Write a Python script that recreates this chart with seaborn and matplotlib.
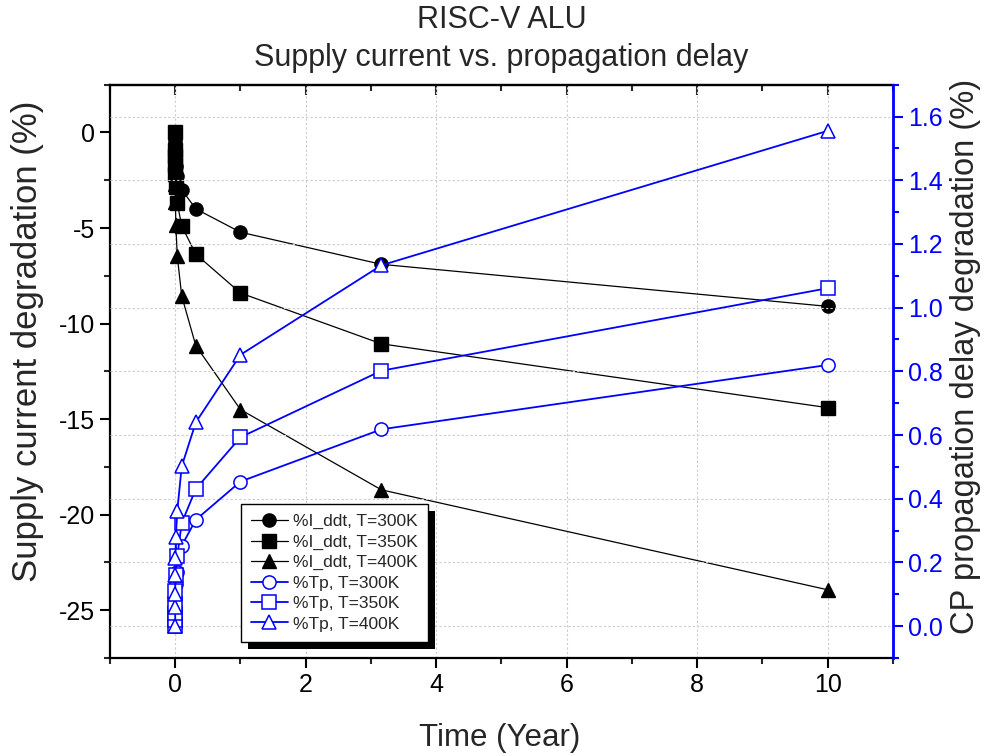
import matplotlib
matplotlib.use("Agg")
import matplotlib.pyplot as plt
import matplotlib.transforms as mtransforms
from matplotlib.patches import Rectangle
from matplotlib.ticker import MultipleLocator, FormatStrFormatter
import seaborn as sns

# Aging time points (years)
time_years = [0, 1e-4, 3.16e-4, 1e-3, 3.16e-3, 0.01, 0.0316, 0.1, 0.316, 1, 3.16, 10]

# Supply current degradation (%)
iddt_300 = [0.0, -0.45, -0.65, -0.95, -1.3, -1.75, -2.3, -3.0, -4.0, -5.22, -6.9, -9.1]
iddt_350 = [0.0, -0.9, -1.25, -1.7, -2.2, -2.85, -3.7, -4.9, -6.37, -8.4, -11.06, -14.4]
iddt_400 = [0.0, -1.5, -2.0, -2.7, -3.65, -4.86, -6.47, -8.56, -11.16, -14.5, -18.7, -23.93]

# Critical-path propagation delay degradation (%)
tp_300 = [0.0, 0.006, 0.025, 0.048, 0.087, 0.131, 0.17, 0.253, 0.334, 0.454, 0.618, 0.82]
tp_350 = [0.0, 0.02, 0.04, 0.07, 0.11, 0.16, 0.22, 0.324, 0.431, 0.593, 0.802, 1.061]
tp_400 = [0.0, 0.06, 0.1, 0.16, 0.215, 0.28, 0.362, 0.502, 0.64, 0.852, 1.133, 1.555]

labels_iddt = ["%I_ddt, T=300K", "%I_ddt, T=350K", "%I_ddt, T=400K"]
labels_tp = ["%Tp, T=300K", "%Tp, T=350K", "%Tp, T=400K"]
markers = ["o", "s", "^"]

sns.set_theme(style="ticks")
plt.rcParams["font.family"] = ["Liberation Sans", "DejaVu Sans"]
plt.rcParams["axes.unicode_minus"] = False

BLUE = "#0000ff"

fig = plt.figure(figsize=(9.88, 7.56), dpi=100)
ax = fig.add_axes([0.1113, 0.1296, 0.7925, 0.7584])
ax2 = ax.twinx()

handles = []
for y, m in zip([iddt_300, iddt_350, iddt_400], markers):
    sns.lineplot(x=time_years, y=y, ax=ax, sort=False, color="black", linewidth=0.9,
                 marker=m, markersize=9.5, markerfacecolor="black",
                 markeredgecolor="black", markeredgewidth=1.0, legend=False)
    handles.append(ax.lines[-1])
for y, m in zip([tp_300, tp_350, tp_400], markers):
    sns.lineplot(x=time_years, y=y, ax=ax2, sort=False, color=BLUE, linewidth=1.3,
                 marker=m, markersize=9.5, markerfacecolor="white",
                 markeredgecolor=BLUE, markeredgewidth=1.1, legend=False)
    handles.append(ax2.lines[-1])

# Axis ranges and ticks
ax.set_xlim(-1, 11)
ax.set_ylim(-27.5, 2.5)
ax2.set_ylim(-0.1, 1.7)
ax.xaxis.set_major_locator(MultipleLocator(2))
ax.xaxis.set_minor_locator(MultipleLocator(1))
ax.yaxis.set_major_locator(MultipleLocator(5))
ax.yaxis.set_minor_locator(MultipleLocator(2.5))
ax2.yaxis.set_major_locator(MultipleLocator(0.2))
ax2.yaxis.set_minor_locator(MultipleLocator(0.1))
ax2.yaxis.set_major_formatter(FormatStrFormatter("%.1f"))

ax.tick_params(axis="both", which="major", direction="out", length=7, width=1.5,
               labelsize=18, colors="black", pad=4)
ax.tick_params(axis="both", which="minor", direction="out", length=4, width=1.5)
ax2.tick_params(axis="y", which="major", direction="out", length=7, width=1.5,
                labelsize=18, colors=BLUE, pad=4)
ax2.tick_params(axis="y", which="minor", direction="out", length=4, width=1.5, colors=BLUE)

top = ax.secondary_xaxis("top")
top.xaxis.set_major_locator(MultipleLocator(2))
top.xaxis.set_minor_locator(MultipleLocator(1))
top.tick_params(which="major", direction="in", length=7, width=1.5, labeltop=False)
top.tick_params(which="minor", direction="in", length=4, width=1.5)
top.spines["top"].set_linewidth(1.6)

for s in ["left", "bottom", "top"]:
    ax.spines[s].set_linewidth(1.6)
    ax.spines[s].set_color("black")
for s in ["left", "bottom", "top"]:
    ax2.spines[s].set_visible(False)
ax.spines["right"].set_visible(False)
ax2.spines["right"].set_color(BLUE)
ax2.spines["right"].set_linewidth(2.0)

# Dotted grid
ax.grid(axis="x", which="major", linestyle=(0, (2, 2)), color="#cccccc", linewidth=0.8)
ax2.grid(axis="y", which="major", linestyle=(0, (2, 2)), color="#cccccc", linewidth=0.8)
ax.set_axisbelow(True)
ax2.set_axisbelow(True)

ax.set_xlabel("")
ax.set_ylabel("")
ax2.set_ylabel("")
fig.text(0.5076, 1 - 20 / 756, "RISC-V ALU", ha="center", va="center", fontsize=22)
fig.text(0.5076, 1 - 58 / 756, "Supply current vs. propagation delay",
         ha="center", va="center", fontsize=22)
fig.text(0.5056, 1 - 738 / 756, "Time (Year)", ha="center", va="center", fontsize=22.5)
fig.text(28 / 988, 1 - 341 / 756, "Supply current degradation (%)", ha="center",
         va="center", rotation=90, fontsize=25)
fig.text(965 / 988, 1 - 356 / 756, "CP propagation delay degradation (%)", ha="center",
         va="center", rotation=90, fontsize=23.5)

leg = ax2.legend(handles, labels_iddt + labels_tp, loc="lower left",
                 bbox_to_anchor=(0.167, 0.028), borderaxespad=0, frameon=True,
                 fancybox=False, framealpha=1, edgecolor="black", fontsize=12.5,
                 handlelength=2.1, handletextpad=0.3, labelspacing=0.3,
                 borderpad=0.6, markerscale=1.0)
leg.get_frame().set_linewidth(1.0)
leg.set_zorder(10)

# Solid drop shadow behind the legend box
fig.canvas.draw()
bb = leg.get_window_extent()
shadow = Rectangle((bb.x0 + 7, bb.y0 - 7), bb.width, bb.height, facecolor="black",
                   edgecolor="none", transform=mtransforms.IdentityTransform(), zorder=9)
ax2.add_artist(shadow)

fig.savefig("out.png", dpi=100, facecolor="white")
